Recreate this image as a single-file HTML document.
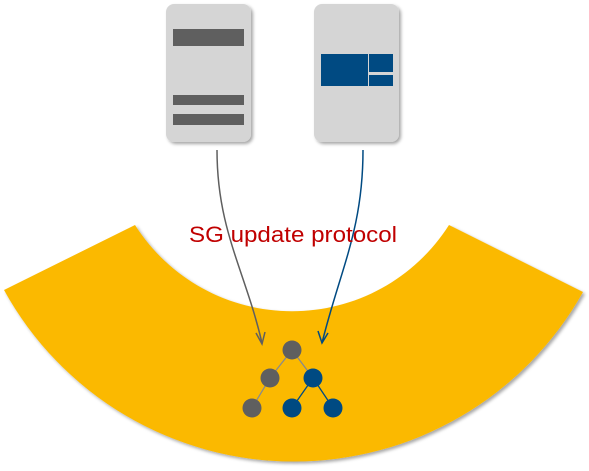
<!DOCTYPE html>
<html><head><meta charset="utf-8"><style>
html,body{margin:0;padding:0;background:#fff;width:589px;height:471px;overflow:hidden}
</style></head><body>
<svg width="589" height="471" viewBox="0 0 589 471" xmlns="http://www.w3.org/2000/svg">
<defs>
<filter id="sh" x="-10%" y="-10%" width="130%" height="130%"><feDropShadow dx="2" dy="2" stdDeviation="1.5" flood-color="#000" flood-opacity="0.35"/></filter>
</defs>
<path d="M4,290 A331 331 0 0 0 583,292 L449,225 A186 186 0 0 1 135,225 Z" fill="#fbb900" filter="url(#sh)"/>
<rect x="166" y="4" width="85" height="138" rx="8" fill="#d5d5d5" filter="url(#sh)"/>
<rect x="314" y="4" width="85" height="138" rx="8" fill="#d5d5d5" filter="url(#sh)"/>
<rect x="173" y="29" width="71" height="17" fill="#5f5f5f"/>
<rect x="173" y="95" width="71" height="10" fill="#5f5f5f"/>
<rect x="173" y="114" width="71" height="11" fill="#5f5f5f"/>
<rect x="321" y="54" width="47" height="32" fill="#004a82"/>
<rect x="369" y="54" width="24" height="18" fill="#004a82"/>
<rect x="369" y="75" width="24" height="11" fill="#004a82"/>
<path d="M217,150 C217,230 245,270 262,343" fill="none" stroke="#5f5f5f" stroke-width="1.5"/>
<path d="M256,333 L262,344 L265,332" fill="none" stroke="#5f5f5f" stroke-width="1.5"/>
<path d="M363,150 C363,230 340,270 322,343" fill="none" stroke="#004a82" stroke-width="1.5"/>
<path d="M318,331 L322,343 L328,333" fill="none" stroke="#004a82" stroke-width="1.5"/>
<text x="189" y="242" font-family="Liberation Sans, sans-serif" font-size="22" fill="#c00000" textLength="208" lengthAdjust="spacingAndGlyphs">SG update protocol</text>
<g stroke-width="1.3">
<line x1="292" y1="350" x2="270" y2="378" stroke="#8a8a8a"/>
<line x1="292" y1="350" x2="313" y2="378" stroke="#8a8a8a"/>
<line x1="270" y1="378" x2="252" y2="408" stroke="#8a8a8a"/>
<line x1="313" y1="378" x2="292" y2="408" stroke="#004a82"/>
<line x1="313" y1="378" x2="333" y2="408" stroke="#004a82"/>
</g>
<circle cx="292" cy="350" r="9.5" fill="#5f5f5f"/>
<circle cx="270" cy="378" r="9.5" fill="#5f5f5f"/>
<circle cx="313" cy="378" r="9.5" fill="#004a82"/>
<circle cx="252" cy="408" r="9.5" fill="#5f5f5f"/>
<circle cx="292" cy="408" r="9.5" fill="#004a82"/>
<circle cx="333" cy="408" r="9.5" fill="#004a82"/>
</svg>
</body></html>
